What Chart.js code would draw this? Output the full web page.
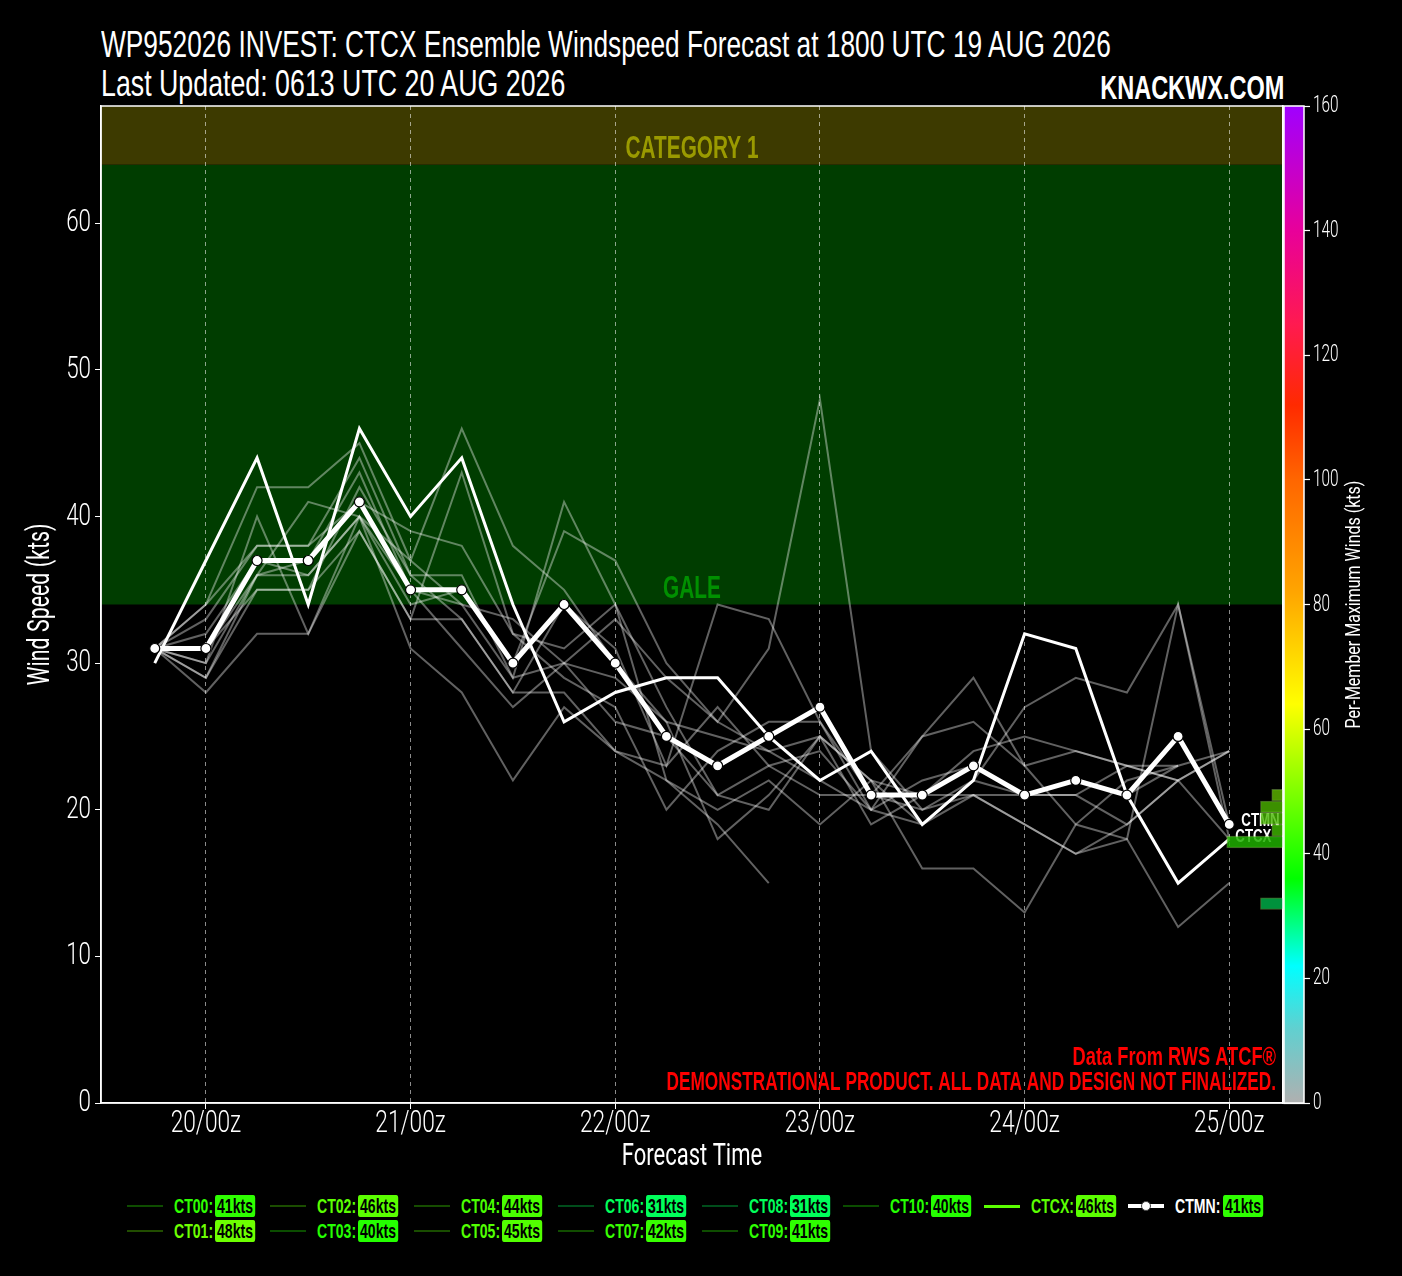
<!DOCTYPE html>
<html>
<head>
<meta charset="utf-8">
<script src="https://cdn.jsdelivr.net/npm/chart.js@4.4.1/dist/chart.umd.min.js"></script>
<style>
  body { margin: 0; background: #000; }
  #wrap { position: relative; width: 1402px; height: 1276px; background: #000; overflow: hidden;
          font-family: "Liberation Sans", Arial, sans-serif; color: #fff; }
  #c { position: absolute; left: 0; top: 0; }
  .ttl { position: absolute; left: 101px; font-size: 36px; line-height: 1; white-space: nowrap; transform-origin: left top; }
  #site { position: absolute; font-size: 33px; font-weight: bold; line-height: 1; white-space: nowrap; transform-origin: right top; }
  .lg { position: absolute; white-space: nowrap; font-size: 21px; font-weight: bold; line-height: 22px; transform-origin: left center; }
  .bd { color: #000; padding: 0 3px; border-radius: 3px; }
  .dot { position: absolute; width: 8px; height: 8px; border-radius: 50%; background: #fff; border: 1px solid #444; }
</style>
</head>
<body>
<div id="wrap">
  <div class="ttl" id="t1" style="top:27px">WP952026 INVEST: CTCX Ensemble Windspeed Forecast at 1800 UTC 19 AUG 2026</div>
  <div class="ttl" id="t2" style="top:66px">Last Updated: 0613 UTC 20 AUG 2026</div>
  <div id="site" style="right:118px;top:71px">KNACKWX.COM</div>
  <canvas id="c" width="1402" height="1180"></canvas>
  <div id="legend"></div>
</div>
<script>
// forecast hours relative to 20/00z, one per 6-hourly step (19/18z .. 25/00z)
const fcstHours = [-6, 0, 6, 12, 18, 24, 30, 36, 42, 48, 54, 60, 66, 72, 78, 84, 90, 96, 102, 108, 114, 120];
const tickHours = [0, 24, 48, 72, 96, 120];
const tickLabels = ['20/00z', '21/00z', '22/00z', '23/00z', '24/00z', '25/00z'];
const windTicks = [0, 10, 20, 30, 40, 50, 60];
const cbarTicks = [0, 20, 40, 60, 80, 100, 120, 140, 160];

// consensus and ensemble mean
const ctcx = [30, 37, 44, 34, 46, 40, 44, 34, 26, 28, 29, 29, 25, 22, 24, 19, 22, 32, 31, 21, 15, 18];
const ctmn = [31, 31, 37, 37, 41, 35, 35, 30, 34, 30, 25, 23, 25, 27, 21, 21, 23, 21, 22, 21, 25, 19];

// members
const ct00 = [31, 34, 42, 42, 45, 37, 46, 38, 35, 30, 26, 25, 24, 25, 22, 21, 21, 19, 17, 18, 34, 19];
const ct01 = [31, 30, 40, 32, 39, 33, 43, 32, 31, 34, 22, 19, 15, null, null, null, null, null, null, null, null, null];
const ct02 = [31, 33, 38, 38, 44, 36, 36, 29, 41, 34, 27, 21, 23, 24, 20, 19, 22, 21, 21, 19, 22, 18];
const ct03 = [31, 31, 36, 41, 40, 34, 35, 30, 39, 37, 30, 26, 31, 48, 24, 20, 22, 27, 29, 28, 34, 18];
const ct04 = [31, 29, 35, 35, 42, 36, 33, 28, 34, 31, 23, 34, 33, 26, 21, 25, 29, 23, 24, 23, 23, null];
const ct05 = [31, 28, 32, 32, 40, 31, 28, 22, 27, 24, 22, 20, 22, 19, 22, 16, 16, 13, 19, 18, 12, 15];
const ct06 = [31, 32, 37, 36, 40, 35, 34, 33, 30, 29, 26, 18, 21, 25, 22, 19, 21, 21, 21, 23, 22, 24];
const ct07 = [31, 34, 38, 38, 41, 39, 38, 32, 29, 27, 20, 24, 26, 26, 20, 25, 26, 23, 19, 22, 23, null];
const ct08 = [31, 30, 36, 36, 40, 37, 34, 29, 30, 26, 25, 21, 20, 25, 19, 21, 24, 25, 24, 23, 22, 24];
const ct09 = [31, 31, 35, 35, 39, 33, 33, 28, 28, 24, 23, 27, 23, 21, 21, 20, 21, 19, 17, 19, 22, null];
const ct10 = [31, 29, 36, 37, 43, 35, 31, 27, 30, 33, 29, 26, 24, 22, 20, 22, 23, 21, 22, 21, 23, 24];
const memberNames = ['CT00', 'CT01', 'CT02', 'CT03', 'CT04', 'CT05', 'CT06', 'CT07', 'CT08', 'CT09', 'CT10'];
const memberSeries = [ct00, ct01, ct02, ct03, ct04, ct05, ct06, ct07, ct08, ct09, ct10];
const memberMax = [41, 48, 46, 40, 44, 45, 31, 42, 31, 41, 40];
const ctcxMax = 46;
const ctmnMax = 41;

// final-time distribution (kts bin centre, member count), bins 0.8 kt wide
const histBins = [13.2, 17.4, 18.2, 19.0, 19.8, 20.6];
const histCounts = [2, 5, 1, 2, 2, 1];
const histBinWidth = 0.8;

// intensity bands
const bandLimits = [34, 64, 83];
const bandNames = ['GALE', 'CATEGORY 1'];

// styles
const LIGHT = 'Roboto';
const BOLD = '"Liberation Sans", Arial';
const bandFill = ['#003d00', '#3d3a00'];
const bandText = ['#009000', '#9a9a00'];
const histColors = ['rgba(0,170,70,0.85)', 'rgba(30,175,0,0.85)', 'rgba(60,175,0,0.85)',
                    'rgba(70,180,0,0.8)', 'rgba(75,180,0,0.8)', 'rgba(95,185,0,0.8)'];
const cmapStops = [0, 12, 22, 36, 64, 82, 100, 112, 125, 140, 160];
const cmapColors = ['#b0b0b0', '#60d0d0', '#00ffff', '#00ff00', '#ffff00', '#ffa500',
                    '#ff6600', '#ff2a00', '#ff1a50', '#e8009a', '#a000ff'];

function hexRgb(h) { return [1, 3, 5].map(i => parseInt(h.substr(i, 2), 16)); }
function cmap(v, a) {
  let i = 0;
  while (i < cmapStops.length - 2 && v > cmapStops[i + 1]) i++;
  const f = Math.min(1, Math.max(0, (v - cmapStops[i]) / (cmapStops[i + 1] - cmapStops[i])));
  const c0 = hexRgb(cmapColors[i]), c1 = hexRgb(cmapColors[i + 1]);
  const c = c0.map((x, k) => Math.round(x + (c1[k] - x) * f));
  return `rgba(${c[0]},${c[1]},${c[2]},${a === undefined ? 1 : a})`;
}

// condensed text helper (no narrow fonts installed, so squeeze horizontally)
function ctext(ctx, str, x, y, font, color, sx, align, rot) {
  ctx.save();
  ctx.translate(x, y);
  if (rot) ctx.rotate(rot);
  ctx.scale(sx, 1);
  ctx.font = font;
  ctx.fillStyle = color;
  ctx.textAlign = align || 'center';
  ctx.textBaseline = 'middle';
  ctx.fillText(str, 0, 0);
  ctx.restore();
}

const pts = arr => fcstHours.map((h, i) => ({ x: h, y: arr[i] }));

const datasets = [
  {
    type: 'bar', label: 'hist', indexAxis: 'y', xAxisID: 'xh', yAxisID: 'y',
    data: histBins.map((b, i) => ({ x: histCounts[i], y: b })),
    backgroundColor: histColors, borderColor: 'rgba(150,210,90,0.45)', borderWidth: 1,
    categoryPercentage: 1, barPercentage: 1
  },
  {
    type: 'line', label: 'CTMN', data: pts(ctmn), borderColor: '#fff', borderWidth: 5,
    pointRadius: 5, pointBackgroundColor: '#fff', pointBorderColor: '#000', pointBorderWidth: 1.2
  },
  { type: 'line', label: 'CTCX', data: pts(ctcx), borderColor: '#fff', borderWidth: 3, pointRadius: 0 }
];
memberSeries.forEach((s, i) => datasets.push({
  type: 'line', label: memberNames[i], data: pts(s), borderColor: 'rgba(255,255,255,0.38)',
  borderWidth: 2, pointRadius: 0, spanGaps: false
}));

const decor = {
  id: 'decor',
  beforeDraw(chart) {
    const { ctx, chartArea: a, scales: { y } } = chart;
    ctx.save();
    for (let i = 0; i < bandNames.length; i++) {
      const top = y.getPixelForValue(Math.min(bandLimits[i + 1], y.max));
      const bot = y.getPixelForValue(bandLimits[i]);
      ctx.fillStyle = bandFill[i];
      ctx.fillRect(a.left, top, a.right - a.left, bot - top);
    }
    ctx.restore();
    for (let i = 0; i < bandNames.length; i++) {
      ctext(ctx, bandNames[i], (a.left + a.right) / 2, y.getPixelForValue(bandLimits[i]) - 15,
            'bold 32px ' + BOLD, bandText[i], 0.65);
    }
  },
  afterDatasetDraw(chart, args) {
    if (args.index !== 1) return;
    const { ctx } = chart;
    const mn = chart.getDatasetMeta(1).data, cx = chart.getDatasetMeta(2).data;
    const pm = mn[mn.length - 1], pc = cx[cx.length - 1];
    ctext(ctx, 'CTMN', pm.x + 12, pm.y - 4, 'bold 19px ' + BOLD, '#fff', 0.7, 'left');
    ctext(ctx, 'CTCX', pc.x + 6, pc.y - 2, 'bold 19px ' + BOLD, '#fff', 0.7, 'left');
  },
  afterDraw(chart) {
    const { ctx, chartArea: a, scales: { x, y, yc } } = chart;
    ctx.save();
    // frame
    ctx.strokeStyle = '#fff';
    ctx.lineWidth = 1.5;
    ctx.strokeRect(a.left, a.top, a.right - a.left, a.bottom - a.top);
    // colour bar
    const y0 = yc.getPixelForValue(0), y1 = yc.getPixelForValue(160);
    const g = ctx.createLinearGradient(0, y0, 0, y1);
    cmapStops.forEach((v, i) => g.addColorStop(v / 160, cmapColors[i]));
    ctx.fillStyle = g;
    const bx = yc.left + 1, bw = 20;
    ctx.fillRect(bx, y1, bw, y0 - y1);
    ctx.strokeRect(bx, y1, bw, y0 - y1);
    ctx.restore();

    const light = '300 32px ' + LIGHT;
    tickHours.forEach((h, i) => ctext(ctx, tickLabels[i], x.getPixelForValue(h), a.bottom + 21, light, '#fff', 0.71));
    windTicks.forEach(v => ctext(ctx, String(v), a.left - 10, y.getPixelForValue(v), light, '#fff', 0.7, 'right'));
    cbarTicks.forEach(v => ctext(ctx, String(v), yc.left + 30, yc.getPixelForValue(v), '300 24px ' + LIGHT, '#fff', 0.64, 'left'));
    ctext(ctx, 'Forecast Time', (a.left + a.right) / 2, 1157, '31px ' + LIGHT, '#fff', 0.71);
    ctext(ctx, 'Wind Speed (kts)', 41, (a.top + a.bottom) / 2, '31px ' + LIGHT, '#fff', 0.69, 'center', -Math.PI / 2);
    ctext(ctx, 'Per-Member Maximum Winds (kts)', 1355, (a.top + a.bottom) / 2, '20px ' + LIGHT, '#fff', 0.8, 'center', -Math.PI / 2);

    // credits
    ctext(ctx, 'Data From RWS ATCF\u00AE', a.right - 7, a.bottom - 45, 'bold 25px ' + BOLD, '#ff0000', 0.73, 'right');
    ctext(ctx, 'DEMONSTRATIONAL PRODUCT. ALL DATA AND DESIGN NOT FINALIZED.', a.right - 7, a.bottom - 20,
          'bold 25px ' + BOLD, '#ff0000', 0.69, 'right');
  }
};

const chart = new Chart(document.getElementById('c'), {
  type: 'line',
  data: { datasets },
  plugins: [decor],
  options: {
    responsive: false,
    animation: false,
    layout: { padding: { top: 106, left: 0, right: 0, bottom: 0 }, autoPadding: false },
    plugins: { legend: { display: false }, tooltip: { enabled: false } },
    elements: { line: { tension: 0 } },
    scales: {
      x: {
        type: 'linear', min: -12.3, max: 126.3, offset: false,
        afterBuildTicks: s => { s.ticks = tickHours.map(v => ({ value: v })); },
        afterFit: s => { s.height = 77; },
        ticks: { display: false },
        grid: { color: 'rgba(255,255,255,0.55)', lineWidth: 1, tickLength: 6, tickColor: '#fff', offset: false },
        border: { color: '#fff', width: 1.5, dash: [4, 4] }
      },
      y: {
        type: 'linear', min: 0, max: 68, offset: false,
        afterBuildTicks: s => { s.ticks = windTicks.map(v => ({ value: v })); },
        afterFit: s => { s.width = 101; },
        ticks: { display: false },
        grid: { drawOnChartArea: false, tickLength: 6, tickColor: '#fff', offset: false },
        border: { color: '#fff', width: 1.5 }
      },
      yc: {
        type: 'linear', position: 'right', min: 0, max: 160, offset: false,
        afterBuildTicks: s => { s.ticks = cbarTicks.map(v => ({ value: v })); },
        afterFit: s => { s.width = 119; },
        ticks: { display: false },
        grid: { drawOnChartArea: false, tickLength: 27, tickColor: '#fff', tickWidth: 1.2, offset: false },
        border: { color: '#fff', width: 1.5 }
      },
      xh: { type: 'linear', display: false, min: 0, max: 105, reverse: true }
    }
  }
});
// histogram bar thickness = one bin on the wind axis
const ys = chart.scales.y;
chart.data.datasets[0].barThickness = Math.abs(ys.getPixelForValue(0) - ys.getPixelForValue(histBinWidth));
chart.update();

// legend
const legend = document.getElementById('legend');
const colStarts = [127, 270, 414, 558, 702, 843, 984, 1128];
const SQ = 0.67;
function addItem(col, row, name, max, lineColor, lineH, nameColor, marker) {
  const x0 = colStarts[col], yc = 1206 + row * 25;
  const ln = document.createElement('div');
  ln.style.cssText = `position:absolute;left:${x0}px;top:${yc - lineH / 2}px;width:36px;height:${lineH}px;background:${lineColor}`;
  legend.appendChild(ln);
  if (marker) {
    const d = document.createElement('div');
    d.className = 'dot';
    d.style.left = (x0 + 13) + 'px';
    d.style.top = (yc - 5) + 'px';
    legend.appendChild(d);
  }
  const nm = document.createElement('div');
  nm.className = 'lg';
  nm.style.cssText += `left:${x0 + 47}px;top:${yc - 11}px;color:${nameColor};transform:scaleX(${SQ})`;
  nm.textContent = name + ':';
  legend.appendChild(nm);
  const bd = document.createElement('div');
  bd.className = 'lg bd';
  bd.style.cssText += `left:${x0 + 47 + nm.offsetWidth * SQ + 2}px;top:${yc - 11}px;background:${cmap(max)};transform:scaleX(${SQ})`;
  bd.textContent = max + 'kts';
  legend.appendChild(bd);
}
memberNames.forEach((n, i) => addItem(Math.floor(i / 2), i % 2, n, memberMax[i], cmap(memberMax[i], 0.3), 2, cmap(memberMax[i])));
addItem(6, 0, 'CTCX', ctcxMax, cmap(ctcxMax), 3, cmap(ctcxMax));
addItem(7, 0, 'CTMN', ctmnMax, '#fff', 4, '#fff', true);

// fit title lines to the reference widths
function fitWidth(id, target) {
  const el = document.getElementById(id);
  el.style.transform = `scaleX(${target / el.offsetWidth})`;
}
fitWidth('t1', 1010);
fitWidth('t2', 464);
fitWidth('site', 184);
</script>
</body>
</html>
